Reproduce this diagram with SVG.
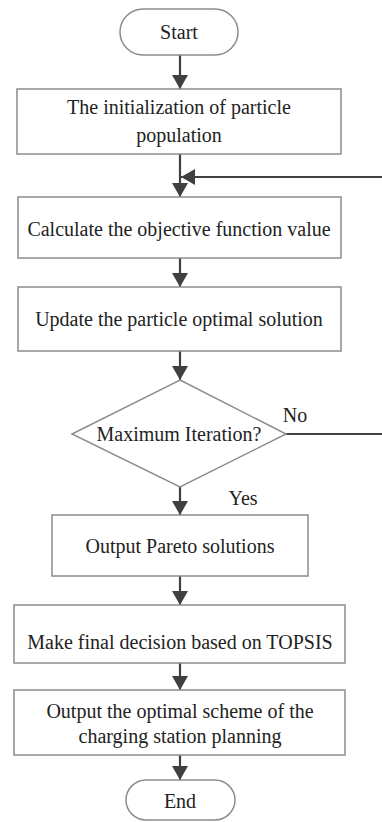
<svg xmlns="http://www.w3.org/2000/svg" width="382" height="822" viewBox="0 0 382 822">
  <style>
    .box { fill: #ffffff; stroke: #8c8c8c; stroke-width: 1.5; }
    .lbl { font-family: "Liberation Serif", "Times New Roman", serif; font-size: 20px; fill: #222222; text-anchor: middle; dominant-baseline: central; }
    .flow { fill: none; stroke: #404040; stroke-width: 2.2; }
  </style>
  <defs>
    <marker id="arrow" viewBox="0 0 14 16" refX="14" refY="8" markerWidth="14" markerHeight="16" markerUnits="userSpaceOnUse" orient="auto">
      <path d="M0,0 L14,8 L0,16 Z" fill="#404040"/>
    </marker>
  </defs>
  <rect width="382" height="822" fill="#ffffff"/>

  <g id="connectors">
    <line class="flow" x1="180" y1="55" x2="180" y2="89" marker-end="url(#arrow)"/>
    <line class="flow" x1="180" y1="154" x2="180" y2="197" marker-end="url(#arrow)"/>
    <line class="flow" x1="382" y1="177" x2="181" y2="177" marker-end="url(#arrow)"/>
    <line class="flow" x1="180" y1="258" x2="180" y2="287" marker-end="url(#arrow)"/>
    <line class="flow" x1="180" y1="351" x2="180" y2="380" marker-end="url(#arrow)"/>
    <line class="flow" x1="286" y1="434" x2="382" y2="434"/>
    <line class="flow" x1="180" y1="487" x2="180" y2="515" marker-end="url(#arrow)"/>
    <line class="flow" x1="180" y1="576" x2="180" y2="605" marker-end="url(#arrow)"/>
    <line class="flow" x1="180" y1="663" x2="180" y2="690" marker-end="url(#arrow)"/>
    <line class="flow" x1="180" y1="755" x2="180" y2="780" marker-end="url(#arrow)"/>
    <text class="lbl" x="295" y="415">No</text>
    <text class="lbl" x="243" y="498">Yes</text>
  </g>

  <g id="start">
    <rect class="box" x="120" y="9" width="118" height="46" rx="23"/>
    <text class="lbl" x="179" y="32">Start</text>
  </g>

  <g id="init">
    <rect class="box" x="17" y="89" width="324" height="65"/>
    <text class="lbl" x="179" y="107">The initialization of particle</text>
    <text class="lbl" x="179" y="135">population</text>
  </g>

  <g id="calculate">
    <rect class="box" x="18" y="197" width="323" height="61"/>
    <text class="lbl" x="179" y="229">Calculate the objective function value</text>
  </g>

  <g id="update">
    <rect class="box" x="18" y="287" width="323" height="64"/>
    <text class="lbl" x="179" y="319">Update the particle optimal solution</text>
  </g>

  <g id="max-iteration">
    <polygon class="box" points="180,380 286,434 180,487 72,434"/>
    <text class="lbl" x="179" y="434">Maximum Iteration?</text>
  </g>

  <g id="pareto">
    <rect class="box" x="52" y="515" width="256" height="61"/>
    <text class="lbl" x="180" y="546">Output Pareto solutions</text>
  </g>

  <g id="topsis">
    <rect class="box" x="14" y="605" width="331" height="58"/>
    <text class="lbl" x="180" y="642">Make final decision based on TOPSIS</text>
  </g>

  <g id="output-scheme">
    <rect class="box" x="14" y="690" width="331" height="65"/>
    <text class="lbl" x="180" y="711">Output the optimal scheme of the</text>
    <text class="lbl" x="180" y="736">charging station planning</text>
  </g>

  <g id="end">
    <rect class="box" x="126" y="780" width="109" height="40" rx="20"/>
    <text class="lbl" x="180" y="801">End</text>
  </g>
</svg>
